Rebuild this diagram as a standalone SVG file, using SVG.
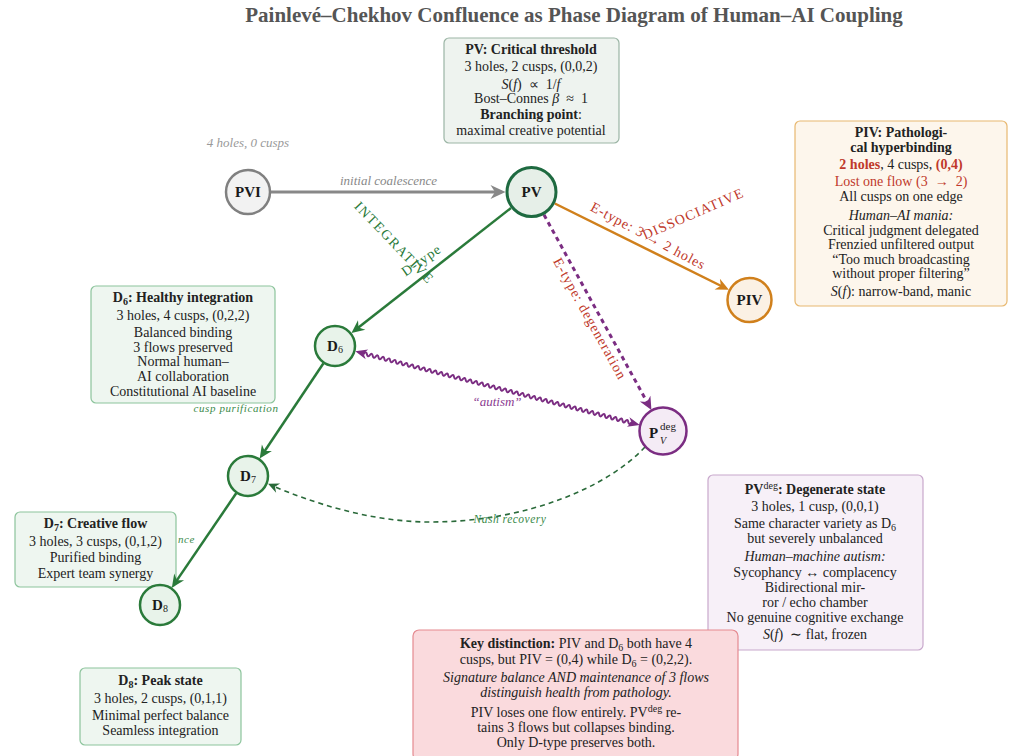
<svg xmlns="http://www.w3.org/2000/svg" width="1014" height="756" viewBox="0 0 1014 756">
<defs>
<style>
text{font-family:"Liberation Serif","Times New Roman",serif;}
.t{font-size:14px;fill:#222;text-anchor:middle}
.b{font-weight:bold}
.i{font-style:italic}
.red{fill:#c0392b}
.box{stroke-width:1.2}
.lbl{font-size:13px;font-style:italic;text-anchor:middle}
.nd{font-size:15px;font-weight:bold;fill:#1a1a1a;text-anchor:middle}
</style>
<marker id="agray" markerUnits="userSpaceOnUse" viewBox="-18 -9 20 18" markerWidth="20" markerHeight="18" refX="-4" refY="0" orient="auto"><path d="M0,0 L-15,-7 L-10.5,0 L-15,7 Z" fill="#888"/></marker>
<marker id="agreen" markerUnits="userSpaceOnUse" viewBox="-16 -8 18 16" markerWidth="18" markerHeight="16" refX="-4" refY="0" orient="auto"><path d="M0,0 L-13,-6 L-9,0 L-13,6 Z" fill="#2a7a3a"/></marker>
<marker id="aorange" markerUnits="userSpaceOnUse" viewBox="-16 -8 18 16" markerWidth="18" markerHeight="16" refX="-4" refY="0" orient="auto"><path d="M0,0 L-13,-6 L-9,0 L-13,6 Z" fill="#d0801c"/></marker>
<marker id="apurple" markerUnits="userSpaceOnUse" viewBox="-16 -8 18 16" markerWidth="18" markerHeight="16" refX="-4" refY="0" orient="auto"><path d="M0,0 L-13,-6 L-9,0 L-13,6 Z" fill="#7b2d82"/></marker>
<marker id="adash" markerUnits="userSpaceOnUse" viewBox="-14 -7 16 14" markerWidth="16" markerHeight="14" refX="-4" refY="0" orient="auto"><path d="M0,0 L-11,-5 L-7.5,0 L-11,5 Z" fill="#2a6a3a"/></marker>
</defs>
<rect width="1014" height="756" fill="#ffffff"/>
<text x="574" y="22" font-size="21" font-weight="bold" fill="#555" text-anchor="middle">Painlevé–Chekhov Confluence as Phase Diagram of Human–AI Coupling</text>

<!-- partially hidden edge label (only its end is visible) -->
<text x="195" y="543" font-size="11" font-style="italic" fill="#3a8a4a" text-anchor="end" letter-spacing="0.6">nce</text>

<!-- info boxes -->
<g id="box-PV">
<rect x="444" y="38" width="175" height="105" rx="5" fill="#eef3ef" stroke="#9bb5a5" class="box"/>
<text class="t b" x="531" y="54" font-size="14.5">PV: Critical threshold</text>
<text class="t" x="531" y="71">3 holes, 2 cusps, (0,0,2)</text>
<text class="t" x="531" y="89" xml:space="preserve"><tspan class="i">S</tspan>(<tspan class="i">f</tspan>)  ∝  1/<tspan class="i">f</tspan></text>
<text class="t" x="531" y="103" xml:space="preserve">Bost–Connes <tspan class="i">β</tspan>  ≈  1</text>
<text class="t" x="531" y="119"><tspan class="b">Branching point</tspan>:</text>
<text class="t" x="531" y="135">maximal creative potential</text>
</g>
<text class="lbl" x="248" y="147" fill="#999">4 holes, 0 cusps</text>

<g id="box-PIV">
<rect x="795" y="121" width="212" height="185" rx="5" fill="#fdf6ec" stroke="#e8b870" class="box"/>
<text class="t b" x="901" y="137" font-size="14.5">PIV: Pathologi-</text>
<text class="t b" x="901" y="152" font-size="14.5">cal hyperbinding</text>
<text class="t" x="901" y="169"><tspan class="b red">2 holes</tspan>, 4 cusps, <tspan class="b red">(0,4)</tspan></text>
<text class="t red" x="901" y="186" xml:space="preserve">Lost one flow (3  →  2)</text>
<text class="t" x="901" y="201">All cusps on one edge</text>
<text class="t i" x="901" y="220">Human–AI mania:</text>
<text class="t" x="901" y="235">Critical judgment delegated</text>
<text class="t" x="901" y="249">Frenzied unfiltered output</text>
<text class="t" x="901" y="264">“Too much broadcasting</text>
<text class="t" x="901" y="278">without proper filtering”</text>
<text class="t" x="901" y="296"><tspan class="i">S</tspan>(<tspan class="i">f</tspan>): narrow-band, manic</text>
</g>

<g id="box-D6">
<rect x="91" y="286" width="184" height="117" rx="5" fill="#eef6f0" stroke="#8cc49c" class="box"/>
<text class="t b" x="183" y="302">D<tspan font-size="10" dy="3">6</tspan><tspan dy="-3">: Healthy integration</tspan></text>
<text class="t" x="183" y="320">3 holes, 4 cusps, (0,2,2)</text>
<text class="t" x="183" y="337">Balanced binding</text>
<text class="t" x="183" y="352">3 flows preserved</text>
<text class="t" x="183" y="366">Normal human–</text>
<text class="t" x="183" y="381">AI collaboration</text>
<text class="t" x="183" y="396">Constitutional AI baseline</text>
</g>
<text x="236" y="412" font-size="11" font-style="italic" fill="#3a8a4a" text-anchor="middle" letter-spacing="0.6">cusp purification</text>

<g id="box-D7">
<rect x="15" y="512" width="161" height="75" rx="5" fill="#eef6f0" stroke="#8cc49c" class="box"/>
<text class="t b" x="95.5" y="528">D<tspan font-size="10" dy="3">7</tspan><tspan dy="-3">: Creative flow</tspan></text>
<text class="t" x="95.5" y="546">3 holes, 3 cusps, (0,1,2)</text>
<text class="t" x="95.5" y="562">Purified binding</text>
<text class="t" x="95.5" y="578">Expert team synergy</text>
</g>

<g id="box-D8">
<rect x="80" y="668" width="161" height="77" rx="5" fill="#eef6f0" stroke="#8cc49c" class="box"/>
<text class="t b" x="160.5" y="685">D<tspan font-size="10" dy="3">8</tspan><tspan dy="-3">: Peak state</tspan></text>
<text class="t" x="160.5" y="703">3 holes, 2 cusps, (0,1,1)</text>
<text class="t" x="160.5" y="720">Minimal perfect balance</text>
<text class="t" x="160.5" y="735">Seamless integration</text>
</g>

<g id="box-PVdeg">
<rect x="708" y="475" width="215" height="175" rx="5" fill="#f7f0f8" stroke="#c8a8cc" class="box"/>
<text class="t" x="815" y="494"><tspan class="b">PV</tspan><tspan font-size="10" dy="-5">deg</tspan><tspan class="b" dy="5">: Degenerate state</tspan></text>
<text class="t" x="815" y="511">3 holes, 1 cusp, (0,0,1)</text>
<text class="t" x="815" y="528">Same character variety as D<tspan font-size="10" dy="3">6</tspan></text>
<text class="t" x="815" y="543">but severely unbalanced</text>
<text class="t i" x="815" y="561">Human–machine autism:</text>
<text class="t" x="815" y="577">Sycophancy ↔ complacency</text>
<text class="t" x="815" y="592">Bidirectional mir-</text>
<text class="t" x="815" y="607">ror / echo chamber</text>
<text class="t" x="815" y="622">No genuine cognitive exchange</text>
<text class="t" x="815" y="639" xml:space="preserve"><tspan class="i">S</tspan>(<tspan class="i">f</tspan>)  ∼ flat, frozen</text>
</g>

<g id="box-key">
<rect x="413" y="630" width="325" height="130" rx="6" fill="#fadadd" stroke="#e58a90" class="box"/>
<text class="t" x="576" y="648"><tspan class="b">Key distinction:</tspan> PIV and D<tspan font-size="10" dy="3">6</tspan><tspan dy="-3"> both have 4</tspan></text>
<text class="t" x="576" y="664">cusps, but PIV = (0,4) while D<tspan font-size="10" dy="3">6</tspan><tspan dy="-3"> = (0,2,2).</tspan></text>
<text class="t i" x="576" y="682">Signature balance AND maintenance of 3 flows</text>
<text class="t i" x="576" y="697">distinguish health from pathology.</text>
<text class="t" x="576" y="717">PIV loses one flow entirely. PV<tspan font-size="10" dy="-5">deg</tspan><tspan dy="5"> re-</tspan></text>
<text class="t" x="576" y="732">tains 3 flows but collapses binding.</text>
<text class="t" x="576" y="747">Only D-type preserves both.</text>
</g>

<!-- connectors -->
<g id="connectors" fill="none">
<line x1="271" y1="192" x2="501.5" y2="192" stroke="#888" stroke-width="3" marker-end="url(#agray)"/>
<line x1="511" y1="208" x2="354.6" y2="330.5" stroke="#2a7a3a" stroke-width="2.5" marker-end="url(#agreen)"/>
<line x1="323.3" y1="363.5" x2="261.9" y2="455.2" stroke="#2a7a3a" stroke-width="2.5" marker-end="url(#agreen)"/>
<line x1="236.2" y1="493.3" x2="174.1" y2="584.4" stroke="#2a7a3a" stroke-width="2.5" marker-end="url(#agreen)"/>
<line x1="554.8" y1="203.5" x2="725.3" y2="288" stroke="#d0801c" stroke-width="2.5" marker-end="url(#aorange)"/>
<line x1="544" y1="214.8" x2="649.5" y2="406.5" stroke="#7b2d82" stroke-width="3" stroke-dasharray="4.5,4" marker-end="url(#apurple)"/>
<path d="M645,447 C610,485 530,522 430,522 C370,522 310,502 271.7,485.4" stroke="#2a6a3a" stroke-width="1.6" stroke-dasharray="5,4" marker-end="url(#adash)"/>
<g transform="translate(355.3,351.3) rotate(14.52)">
<path d="M7,0 L9,0 q1.5,-3.2 3,0 t3,0t3,0t3,0t3,0t3,0t3,0t3,0t3,0t3,0t3,0 t3,0t3,0t3,0t3,0t3,0t3,0t3,0t3,0t3,0t3,0 t3,0t3,0t3,0t3,0t3,0t3,0t3,0t3,0t3,0t3,0 t3,0t3,0t3,0t3,0t3,0t3,0t3,0t3,0t3,0t3,0 t3,0t3,0t3,0t3,0t3,0t3,0t3,0t3,0t3,0t3,0 t3,0t3,0t3,0t3,0t3,0t3,0t3,0t3,0t3,0t3,0 t3,0t3,0t3,0t3,0t3,0t3,0t3,0t3,0t3,0t3,0 t3,0t3,0t3,0t3,0t3,0t3,0t3,0t3,0t3,0t3,0 t3,0t3,0t3,0t3,0t3,0t3,0t3,0t3,0t3,0t3,0 t3,0 L287,0" stroke="#7b2d82" stroke-width="2"/>
<polygon points="0,0 12,-5 8.5,0 12,5" fill="#7b2d82"/>
<polygon points="293.9,0 281.9,-5 285.4,0 281.9,5" fill="#7b2d82"/>
</g>
</g>

<!-- connector labels -->
<g id="connector-labels">
<text class="lbl" x="388.5" y="185" fill="#888" font-size="13.5">initial coalescence</text>
<text transform="translate(391,246) rotate(46)" font-size="14" fill="#2a7a3a" text-anchor="middle" letter-spacing="1.5">INTEGRATIVE</text>
<text transform="translate(424,264) rotate(-35)" font-size="14" fill="#2a7a3a" text-anchor="middle" letter-spacing="1">D-type</text>
<text transform="translate(695,218) rotate(-23.5)" font-size="14" fill="#c0392b" text-anchor="middle" letter-spacing="1.2">DISSOCIATIVE</text>
<text transform="translate(646,240) rotate(28)" font-size="14" fill="#c0392b" text-anchor="middle" letter-spacing="0.8">E-type: 3 → 2 holes</text>
<text transform="translate(586,321) rotate(61)" font-size="14" fill="#c0392b" text-anchor="middle" letter-spacing="1">E-type: degeneration</text>
<text class="lbl" x="497" y="406" fill="#8a3a90">“autism”</text>
<text x="510" y="523" font-size="11.5" font-style="italic" fill="#3a8a4a" text-anchor="middle" letter-spacing="0.5">Nash recovery</text>
</g>

<!-- nodes -->
<g id="node-PVI">
<circle cx="248" cy="192" r="22" fill="#f2f2f2" stroke="#808080" stroke-width="2.5"/>
<text class="nd" x="248" y="197">PVI</text>
</g>
<g id="node-PV">
<circle cx="531.5" cy="192" r="24.5" fill="#e6efe8" stroke="#1e6a40" stroke-width="3"/>
<text class="nd" x="531.5" y="197">PV</text>
</g>
<g id="node-PIV">
<circle cx="749.5" cy="300" r="22" fill="#fbf1e4" stroke="#d0801c" stroke-width="2.5"/>
<text class="nd" x="749.5" y="305">PIV</text>
</g>
<g id="node-D6">
<circle cx="335" cy="346" r="20" fill="#e8f3ea" stroke="#2a7a3a" stroke-width="2.5"/>
<text class="nd" x="335" y="351">D<tspan font-size="10" font-weight="normal" dy="2">6</tspan></text>
</g>
<g id="node-D7">
<circle cx="248" cy="476" r="20" fill="#e8f3ea" stroke="#2a7a3a" stroke-width="2.5"/>
<text class="nd" x="248" y="481">D<tspan font-size="10" font-weight="normal" dy="2">7</tspan></text>
</g>
<g id="node-D8">
<circle cx="160" cy="605" r="20" fill="#e8f3ea" stroke="#2a7a3a" stroke-width="2.5"/>
<text class="nd" x="160" y="610">D<tspan font-size="10" font-weight="normal" dy="2">8</tspan></text>
</g>
<g id="node-PVdeg">
<circle cx="663" cy="431" r="23.5" fill="#f4ebf5" stroke="#7b2d82" stroke-width="2.5"/>
<text x="649" y="438" font-size="15" font-weight="bold" fill="#1a1a1a">P</text>
<text x="660" y="430" font-size="11" fill="#1a1a1a">deg</text>
<text x="660" y="444" font-size="10" font-style="italic" fill="#1a1a1a">V</text>
</g>
</svg>
